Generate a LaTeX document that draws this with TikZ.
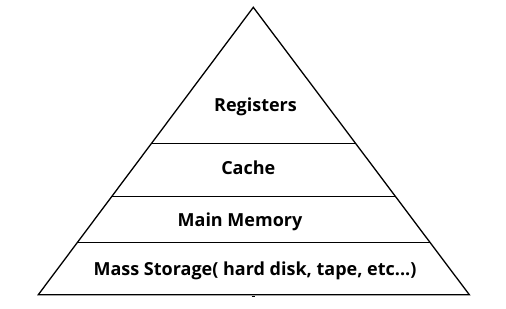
\documentclass[tikz,border=0pt]{standalone}
\usepackage{fontspec}
\setmainfont{Open Sans}
\usetikzlibrary{calc}
\begin{document}
\begin{tikzpicture}[x=1pt,y=-1pt,
  edge/.style={line width=1.3pt,black},
  label/.style={font=\bfseries\fontsize{18}{21}\selectfont,anchor=base,inner sep=0pt}]
\useasboundingbox[fill=white] (0,0) rectangle (506,308);
\coordinate (apex) at (253.3,7.3);
\coordinate (bl) at (38.3,294.7);
\coordinate (br) at (469.3,294.7);
\coordinate (l1) at ($(apex)!0.4746!(bl)$);
\coordinate (r1) at ($(apex)!0.4746!(br)$);
\coordinate (l2) at ($(apex)!0.659!(bl)$);
\coordinate (r2) at ($(apex)!0.659!(br)$);
\coordinate (l3) at ($(apex)!0.8177!(bl)$);
\coordinate (r3) at ($(apex)!0.8177!(br)$);
\draw[edge,line join=miter] (apex) -- (bl) -- (br) -- cycle;
\draw[edge] (l1) -- (r1);
\draw[edge] (l2) -- (r2);
\draw[edge] (l3) -- (r3);
\coordinate (tickL) at (251.5,296.8);
\coordinate (tickR) at (255,296.8);
\draw[line width=1.3pt] (tickL) -- (tickR);
\node[label] (reg) at (255.5,111.7) {Registers};
\node[label] (cache) at (248.3,174.3) {Cache};
\node[label] (main) at (240,226) {Main Memory};
\node[label] (mass) at (255,275.7) {Mass Storage( hard disk, tape, etc...)};
\end{tikzpicture}
\end{document}
